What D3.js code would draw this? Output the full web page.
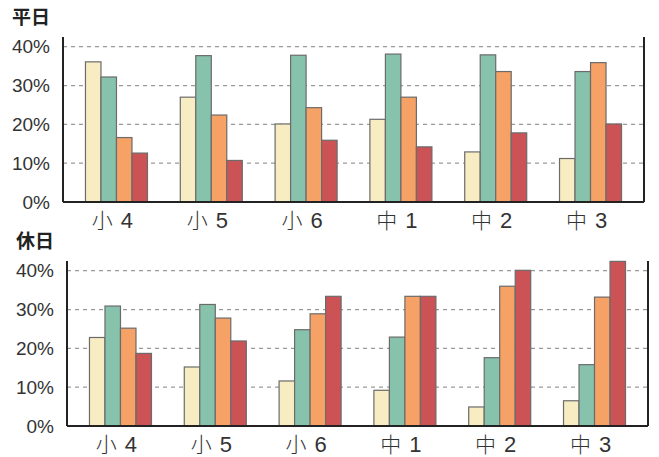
<!DOCTYPE html>
<html>
<head>
<meta charset="utf-8">
<script src="https://cdn.jsdelivr.net/npm/d3@7"></script>
<style>
  body { margin: 0; background: #fff; }
  svg { display: block; }
  .tick-label { font-family: "Liberation Sans", Arial, sans-serif; font-size: 19px; fill: #333; }
  .cat-label { fill: #333; }
  .cat-kanji { font-family: "Noto Sans CJK JP", sans-serif; font-size: 21px; font-weight: 300; }
  .cat-num { font-family: "Liberation Sans Narrow", "Liberation Sans", sans-serif; font-size: 22px; }
  .title { font-family: "Noto Sans CJK JP", sans-serif; font-size: 19px; font-weight: bold; fill: #222; }
</style>
</head>
<body>
<div id="chart"></div>
<script>
const grades = ['小4', '小5', '小6', '中1', '中2', '中3'];
const yTicks = [0, 10, 20, 30, 40];
const colors = ['#f8ecc3', '#87c3ac', '#f6a266', '#cb5356'];

// 平日
const weekdayA = [36.1, 27.0, 20.1, 21.3, 12.9, 11.2];
const weekdayB = [32.2, 37.7, 37.8, 38.1, 37.9, 33.6];
const weekdayC = [16.6, 22.4, 24.3, 27.0, 33.6, 35.9];
const weekdayD = [12.6, 10.7, 15.9, 14.2, 17.8, 20.1];
// 休日
const holidayA = [22.8, 15.2, 11.6, 9.2, 4.9, 6.5];
const holidayB = [30.9, 31.3, 24.8, 22.9, 17.6, 15.8];
const holidayC = [25.2, 27.8, 28.9, 33.4, 36.0, 33.2];
const holidayD = [18.7, 21.9, 33.4, 33.4, 40.1, 42.4];

const width = 659;
const height = 457;
const svg = d3.select('#chart').append('svg')
  .attr('width', width)
  .attr('height', height);

function drawPanel(title, series, left, top) {
  const plotW = 581, plotH = 165;
  const g = svg.append('g').attr('transform', `translate(${left},${top})`);

  const x = d3.scaleBand()
    .domain(grades)
    .range([0, plotW])
    .paddingInner(0.346)
    .paddingOuter(0.237);
  const xs = d3.scaleBand()
    .domain(d3.range(series.length))
    .range([0, x.bandwidth()]);
  const y = d3.scaleLinear().domain([0, 42.5]).range([plotH, 0]);

  // gridlines
  g.append('g')
    .selectAll('line')
    .data(yTicks.filter(t => t > 0))
    .enter()
    .append('line')
    .attr('x1', 0)
    .attr('x2', plotW)
    .attr('y1', d => y(d))
    .attr('y2', d => y(d))
    .style('stroke', '#999')
    .style('stroke-width', 1.3)
    .style('stroke-dasharray', '4,4');

  // bars
  grades.forEach((grade, i) => {
    g.append('g')
      .attr('transform', `translate(${x(grade)},0)`)
      .selectAll('rect')
      .data(series.map(s => s[i]))
      .enter()
      .append('rect')
      .attr('x', (_, j) => xs(j))
      .attr('y', d => y(d))
      .attr('width', xs.bandwidth())
      .attr('height', d => plotH - y(d))
      .attr('fill', (_, j) => colors[j])
      .style('stroke', '#6b6b6b')
      .style('stroke-width', 1.2);
  });

  // y axis labels
  const yAxis = g.append('g')
    .call(d3.axisLeft(y).tickValues(yTicks).tickSize(0).tickPadding(13).tickFormat(d => d + '%'));
  yAxis.select('.domain').remove();
  yAxis.selectAll('text').attr('class', 'tick-label').attr('fill', null);

  // x labels: kanji + condensed digit
  const labels = g.append('g')
    .selectAll('text')
    .data(grades)
    .enter()
    .append('text')
    .attr('class', 'cat-label')
    .attr('text-anchor', 'middle')
    .attr('x', d => x(d) + x.bandwidth() / 2 - 4)
    .attr('y', plotH + 26);
  labels.append('tspan').attr('class', 'cat-kanji').text(d => d[0]);
  labels.append('tspan').attr('class', 'cat-num').attr('dx', 8).text(d => d.slice(1));

  // frame lines
  g.append('line').attr('x1', 0).attr('x2', 0).attr('y1', 0).attr('y2', plotH)
    .style('stroke', '#222').style('stroke-width', 2);
  g.append('line').attr('x1', plotW).attr('x2', plotW).attr('y1', 0).attr('y2', plotH)
    .style('stroke', '#222').style('stroke-width', 2);
  g.append('line').attr('x1', 0).attr('x2', plotW).attr('y1', plotH).attr('y2', plotH)
    .style('stroke', '#222').style('stroke-width', 2);

  svg.append('text')
    .attr('class', 'title')
    .attr('x', left - 51)
    .attr('y', top - 13)
    .text(title);
}

drawPanel('平日', [weekdayA, weekdayB, weekdayC, weekdayD], 63, 37);
drawPanel('休日', [holidayA, holidayB, holidayC, holidayD], 67, 261);
</script>
</body>
</html>
